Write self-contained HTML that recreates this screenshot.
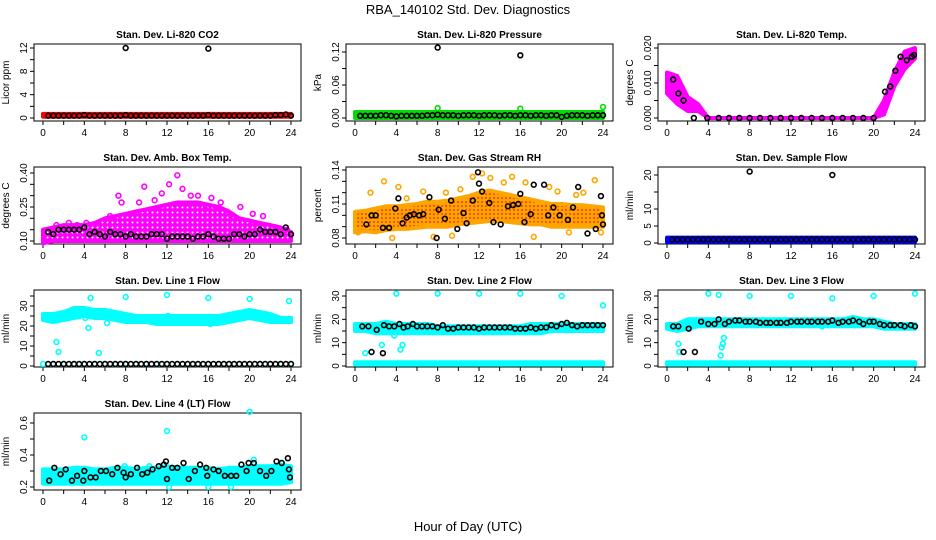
<!DOCTYPE html>
<html><head><meta charset="utf-8"><style>
html,body{margin:0;padding:0;background:#fff;}
svg{display:block;font-family:"Liberation Sans",sans-serif;}
</style></head><body>
<svg id="c" width="936" height="540" viewBox="0 0 936 540" xmlns="http://www.w3.org/2000/svg">
<defs>
<pattern id="pat-mag" patternUnits="userSpaceOnUse" width="5" height="5"><rect width="5" height="5" fill="#ff00ff"/><circle cx="2.5" cy="2.5" r="1" fill="#fff"/></pattern>
<pattern id="pat-org" patternUnits="userSpaceOnUse" width="4" height="4"><rect width="4" height="4" fill="#ffa500"/><circle cx="2" cy="2" r="1" fill="#ff3300"/></pattern>
</defs>
<text x="468" y="14" text-anchor="middle" font-size="13">RBA_140102  Std. Dev. Diagnostics</text>
<text x="468" y="531" text-anchor="middle" font-size="13">Hour of Day (UTC)</text>
</svg>
<script>
// ---- data ----
const bandT = [0,1,2,3,4,5,6,7,8,9,10,11,12,13,14,15,16,17,18,19,20,21,22,23,24];
const hrs = [0.5,1,1.5,2,2.5,3,3.5,4,4.5,5,5.5,6,6.5,7,7.5,8,8.5,9,9.5,10,10.5,11,11.5,12,12.5,13,13.5,14,14.5,15,15.5,16,16.5,17,17.5,18,18.5,19,19.5,20,20.5,21,21.5,22,22.5,23,23.5,24];
// CO2
const co2Lo = Array(25).fill(0.2), co2Hi = Array(25).fill(0.7);
const co2Black = [0.4,0.4,0.4,0.4,0.4,0.4,0.4,0.5,0.4,0.4,0.4,0.4,0.4,0.4,0.4,0.5,0.4,0.4,0.4,0.4,0.4,0.4,0.4,0.4,0.4,0.4,0.4,0.4,0.4,0.4,0.4,0.5,0.4,0.4,0.4,0.4,0.4,0.4,0.4,0.4,0.4,0.4,0.4,0.4,0.5,0.5,0.6,0.4];
const co2OutX = [8,16], co2OutY = [12,11.9];
// Pressure
const prLo = Array(25).fill(0.0), prHi = Array(25).fill(0.011);
const prBlack = [0.004,0.004,0.004,0.004,0.005,0.005,0.004,0.003,0.004,0.004,0.004,0.004,0.004,0.005,0.005,0.006,0.005,0.005,0.005,0.004,0.005,0.005,0.005,0.004,0.005,0.005,0.005,0.004,0.005,0.005,0.004,0.005,0.005,0.004,0.005,0.005,0.004,0.005,0.005,0.002,0.004,0.005,0.005,0.005,0.004,0.005,0.005,0.005];
const prOutBX = [8,16], prOutBY = [0.128,0.114];
const prOutGX = [8,16,24], prOutGY = [0.018,0.017,0.02];
// Temp
const tpLo = [0.007,0.004,0.002,0.002,0,0,0,0,0,0,0,0,0,0,0,0,0,0,0,0,0,0.001,0.009,0.014,0.017];
const tpHi = [0.013,0.012,0.006,0.004,0,0,0,0,0,0,0,0,0,0,0,0,0,0,0,0,0,0.005,0.013,0.019,0.02];
const tpBX = [0.6,1.1,1.6,2.6,3.9,5,6,7,8,9,10,11,12,13,14,15,16,17,18,19,20,21.1,21.6,22.1,22.6,23.2,23.7,23.9];
const tpBY = [0.011,0.007,0.005,0,0,0,0,0,0,0,0,0,0,0,0,0,0,0,0,0,0,0.0075,0.009,0.0135,0.0175,0.0165,0.0175,0.018];
// Amb box
const abLo = [0.09,0.1,0.1,0.1,0.1,0.1,0.1,0.1,0.1,0.1,0.1,0.1,0.1,0.1,0.1,0.1,0.1,0.1,0.1,0.1,0.1,0.1,0.1,0.1,0.1];
const abHi = [0.15,0.16,0.17,0.17,0.17,0.18,0.2,0.21,0.22,0.23,0.24,0.25,0.26,0.27,0.27,0.27,0.26,0.25,0.23,0.2,0.19,0.18,0.17,0.16,0.14];
const abScX = [1.3,2.5,3.3,4.2,6.5,7.3,7.6,9.3,9.8,10.8,11.5,12.2,13,13.5,14.3,15,15.7,16.3,17.2,18.5,19.1,20.3,21.3,22.5,23.6];
const abScY = [0.17,0.18,0.17,0.18,0.21,0.3,0.27,0.27,0.34,0.28,0.31,0.35,0.39,0.33,0.3,0.3,0.24,0.29,0.27,0.2,0.25,0.22,0.21,0.16,0.15];
const abBlack = [0.14,0.13,0.15,0.15,0.15,0.15,0.15,0.16,0.13,0.14,0.13,0.12,0.14,0.13,0.13,0.12,0.13,0.12,0.12,0.12,0.13,0.13,0.13,0.11,0.12,0.12,0.12,0.12,0.11,0.12,0.12,0.13,0.12,0.11,0.11,0.11,0.13,0.13,0.12,0.13,0.13,0.15,0.14,0.14,0.14,0.13,0.16,0.13];
// Gas RH
const rhLo = [0.085,0.086,0.085,0.087,0.088,0.088,0.089,0.09,0.09,0.09,0.092,0.093,0.094,0.095,0.095,0.094,0.093,0.092,0.092,0.09,0.09,0.09,0.09,0.09,0.09];
const rhHi = [0.103,0.104,0.106,0.108,0.108,0.109,0.11,0.112,0.112,0.113,0.115,0.117,0.12,0.122,0.12,0.118,0.116,0.114,0.112,0.11,0.11,0.109,0.109,0.108,0.107];
const rhScX = [0.3,1.5,2.8,4.2,5,6.6,7.6,8.8,10.2,11.4,12.3,13.1,14.4,15.2,16.5,18.8,19.6,20.7,22.1,23.2,23.8,9.4,17.3,3.6,21.4];
const rhScY = [0.085,0.12,0.13,0.125,0.115,0.121,0.081,0.12,0.123,0.134,0.137,0.133,0.129,0.134,0.129,0.125,0.121,0.085,0.12,0.131,0.085,0.082,0.081,0.08,0.118];
const rhBX = [1.1,1.6,2,2.7,3.3,3.9,4.2,4.6,5,5.3,5.7,6.2,6.6,7.2,7.9,8.1,8.7,9.3,9.9,10.5,10.8,11.4,11.9,12,12.3,13,13.4,14.1,14.8,15.3,15.8,16,16.4,17,17.3,18.3,18.7,19.2,19.8,20.6,21.1,21.6,22.5,23.3,23.8,23.9,24];
const rhBY = [0.092,0.1,0.1,0.089,0.089,0.106,0.115,0.093,0.098,0.1,0.101,0.1,0.101,0.116,0.08,0.105,0.097,0.113,0.088,0.102,0.093,0.113,0.138,0.128,0.121,0.111,0.094,0.092,0.108,0.109,0.11,0.119,0.094,0.101,0.127,0.127,0.1,0.107,0.1,0.096,0.107,0.125,0.084,0.088,0.117,0.1,0.092];
// Sample flow
const sfLo = Array(25).fill(0.3), sfHi = Array(25).fill(1.6);
const sfBlack = Array(48).fill(1.0);
const sfOutX = [8,16], sfOutY = [21,20];
// Line 1
const l1Lo = [23,22,23,24,25,24,24,23,22,22,22,21,21,21,21,21,21,21,22,23,24,23,22,22,22];
const l1Hi = [26,26,27,29,29,28,28,27,26,25,25,25,25,25,25,25,25,25,26,27,28,27,26,24,24];
const l1ScX = [0.4,1.3,1.5,4.1,4.4,4.6,5.4,6.2,8,12,12.1,16,16.2,20,23.8];
const l1ScY = [25,12,7,24,19,34,6.5,21.5,34.5,35.5,25,34,21,33.5,32.5];
const l1Base = Array(25).fill(1);
const l1Black = Array(48).fill(1);
// Line 2
const l2Lo = [15,15,14,14,14,14,14,14,14,14,14,14,14,14,14,14,14,14,14,15,15,15,15,15,15];
const l2Hi = [18,18,18,19,18,18,18,18,17,17,17,17,17,17,17,17,17,18,18,18,18,18,18,18,18];
const l2ScX = [1,2.6,4,4.4,4.6,8,12,16,20,24,3.8];
const l2ScY = [5.5,9,31,7,9,31,31,31,30,26,13];
const l2BX = [0.7,1.3,2.1,2.8,3.3,3.8,4.3,4.7,5.1,5.6,6,6.5,7,7.5,8,8.5,9,9.5,10,10.5,11,11.5,12,12.5,13,13.5,14,14.5,15,15.5,16,16.5,17,17.5,18,18.5,19,19.5,20,20.5,21,21.5,22,22.5,23,23.5,24,1.6,2.7];
const l2BY = [17,17,15.5,17.5,17,17,18,16.5,17,18,17,17,17,17,16.5,17.5,16,16,16.5,16.5,16.5,16.5,16,16.5,16.5,16.5,16.5,16.5,16.5,16,16,16,16.5,16,16.5,16.5,17.5,17,18,18.5,17.5,17,17.5,17.5,17.5,17.5,17.5,6,5.5];
// Line 3
const l3Lo = [16,15,16,17,17,17,17,17,17,17,17,17,17,17,17,17,17,17,17,17,17,16,16,16,16];
const l3Hi = [18,18,20,20,20,20,20,20,20,20,20,20,20,20,20,20,20,20,21,20,20,19,18,18,18];
const l3ScX = [1.1,1.2,5,5.2,5.3,5.5,5.4,4,8,12,16,20,24,15];
const l3ScY = [9.5,6,30.5,4.5,8,12,9.5,31,30,30,29,30,31,17];
const l3BX = [0.6,1.1,1.6,2.1,2.7,3.3,4,4.6,5,5.6,6,6.6,7,7.6,8,8.6,9,9.6,10,10.6,11,11.6,12,12.6,13,13.6,14,14.6,15,15.6,16,16.6,17,17.6,18,18.6,19,19.6,20,20.6,21,21.6,22,22.6,23,23.6,24];
const l3BY = [17,17,6,16,6,19,18,18,20,18,19,19.5,19.5,19,19,19,18.5,18.5,18.5,18.5,18.5,18.5,19,19,19,19,19,19,19,19,19.5,18.5,19,19,19.5,19,18,19,19,18,17.5,17.5,17.5,17.5,17,17.5,17];
// Line 4
const l4Lo = [0.22,0.22,0.22,0.22,0.22,0.22,0.22,0.22,0.22,0.22,0.22,0.22,0.22,0.22,0.22,0.22,0.22,0.22,0.22,0.22,0.22,0.22,0.22,0.22,0.23];
const l4Hi = [0.31,0.31,0.31,0.32,0.32,0.31,0.31,0.32,0.32,0.31,0.32,0.32,0.33,0.32,0.32,0.32,0.32,0.31,0.32,0.32,0.33,0.33,0.33,0.34,0.33];
const l4ScX = [0.3,4,12,20,16,10.3,7.9,20.4,23.3,12.2,18.2];
const l4ScY = [0.3,0.51,0.55,0.67,0.2,0.33,0.33,0.37,0.31,0.2,0.2];
const l4BX = [0.6,1.1,1.7,2.2,2.8,3.3,3.9,4,4.6,5.1,5.6,6.1,6.7,7.2,7.8,8,8.5,9.1,9.6,10.1,10.6,11.2,11.7,11.9,12,12.5,13,13.6,14.1,14.7,15.2,15.8,15.9,16.5,17,17.6,18.2,18.7,19.2,19.7,19.9,20.4,21,21.6,22.1,22.6,23.1,23.7,23.8,23.9];
const l4BY = [0.24,0.32,0.28,0.31,0.24,0.27,0.24,0.3,0.26,0.26,0.3,0.3,0.28,0.32,0.29,0.26,0.28,0.32,0.28,0.29,0.31,0.33,0.34,0.36,0.25,0.32,0.32,0.35,0.25,0.3,0.34,0.32,0.27,0.31,0.3,0.27,0.27,0.27,0.34,0.3,0.35,0.35,0.3,0.27,0.3,0.36,0.35,0.38,0.31,0.26];

// ---- layout ----
const NS="http://www.w3.org/2000/svg";
const svg=document.getElementById('c');
const rowBox=[[44,121],[167,244],[290,367],[413,490]];
function mk(tag,attrs,parent){const e=document.createElementNS(NS,tag);for(const k in attrs)e.setAttribute(k,attrs[k]);(parent||svg).appendChild(e);return e;}

function panel(cfg){
  const col=cfg.col,row=cfg.row;
  const L=34+col*312,R=301+col*312,T=rowBox[row][0],B=rowBox[row][1];
  const g=mk('g',{});
  
  
  const xs=t=>L+9+t*(248/24);
  const ys=v=>cfg.p1+(v-cfg.v1)*(cfg.p2-cfg.p1)/(cfg.v2-cfg.v1);
  const box=mk('rect',{x:L,y:T,width:R-L,height:B-T,fill:'none',stroke:'#000','stroke-width':1},g);
  
  
  const tt=mk('text',{x:(L+R)/2,y:T-6,'text-anchor':'middle','font-size':10,'font-weight':'bold'},g);
  tt.textContent=cfg.title;
  
  
  const yl=mk('text',{transform:`translate(${L-25},${(T+B)/2}) rotate(-90)`,'text-anchor':'middle','font-size':10},g);
  yl.textContent=cfg.ylab;
  
  
  for(let t=0;t<=24;t+=2){
    const x=xs(t);
    mk('line',{x1:x,x2:x,y1:B,y2:B+4,stroke:'#000'},g);
    if(t%4===0){const lb=mk('text',{x:x,y:B+15,'text-anchor':'middle','font-size':10},g);lb.textContent=t;
      
      }
  }
  cfg.yticks.forEach(v=>{const y=ys(v);mk('line',{x1:L-4,x2:L,y1:y,y2:y,stroke:'#000'},g);});
  cfg.ylabels.forEach((s,i)=>{const y=ys(cfg.ylabelV[i]);
    const lb=mk('text',{transform:`translate(${L-7},${y}) rotate(-90)`,'text-anchor':'middle','font-size':10},g);lb.textContent=s;
    
    });
  const clip=mk('g',{},g);
  (cfg.bands||[]).forEach(bd=>{
    let d='';
    bandT.forEach((t,i)=>{d+=(i?'L':'M')+xs(t).toFixed(1)+','+ys(bd.hi[i]).toFixed(1);});
    for(let i=bandT.length-1;i>=0;i--)d+='L'+xs(bandT[i]).toFixed(1)+','+ys(bd.lo[i]).toFixed(1);
    const p=mk('path',{d:d+'Z',fill:bd.fill||bd.color,stroke:bd.color,'stroke-width':4,'stroke-linejoin':'round'},clip);
    
    
  });
  (cfg.series||[]).forEach(s=>{
    s.x.forEach((t,i)=>{const c=mk('circle',{cx:xs(t),cy:ys(s.y[i]),r:2.4,fill:'none',stroke:s.color,'stroke-width':1.6},clip);
      
      });
  });
}
function seq(a,b,s){const r=[];for(let v=a;v<=b+1e-9;v+=s)r.push(+v.toFixed(4));return r;}

panel({name:'panel-co2',col:0,row:0,title:'Stan. Dev. Li-820 CO2',ylab:'Licor ppm',v1:0,p1:118,v2:12,p2:48,
  yticks:seq(0,12,2),ylabels:['0','4','8','12'],ylabelV:[0,4,8,12],
  bands:[{lo:co2Lo,hi:co2Hi,color:'#ff0000'}],
  series:[{x:hrs,y:co2Black,color:'#000'},{x:co2OutX,y:co2OutY,color:'#000'}]});
panel({name:'panel-pressure',col:1,row:0,title:'Stan. Dev. Li-820 Pressure',ylab:'kPa',v1:0,p1:118,v2:0.12,p2:52,
  yticks:seq(0,0.12,0.03),ylabels:['0.00','0.06','0.12'],ylabelV:[0,0.06,0.12],
  bands:[{lo:prLo,hi:prHi,color:'#00dd00'}],
  series:[{x:hrs,y:prBlack,color:'#000'},{x:prOutBX,y:prOutBY,color:'#000'},{x:prOutGX,y:prOutGY,color:'#00dd00'}]});
panel({name:'panel-temp',col:2,row:0,title:'Stan. Dev. Li-820 Temp.',ylab:'degrees C',v1:0,p1:118,v2:0.02,p2:48,
  yticks:seq(0,0.02,0.005),ylabels:['0.000','0.010','0.020'],ylabelV:[0,0.01,0.02],
  bands:[{lo:tpLo,hi:tpHi,color:'#ff00ff'}],
  series:[{x:tpBX,y:tpBY,color:'#000'}]});
panel({name:'panel-amb-box-temp',col:0,row:1,title:'Stan. Dev. Amb. Box Temp.',ylab:'degrees C',v1:0.10,p1:241,v2:0.40,p2:173,
  yticks:seq(0.1,0.4,0.05),ylabels:['0.10','0.25','0.40'],ylabelV:[0.1,0.25,0.4],
  bands:[{lo:abLo,hi:abHi,color:'#ff00ff',fill:'url(#pat-mag)'}],
  series:[{x:abScX,y:abScY,color:'#ff00ff'},{x:hrs,y:abBlack,color:'#000'}]});
panel({name:'panel-gas-rh',col:1,row:1,title:'Stan. Dev. Gas Stream RH',ylab:'percent',v1:0.08,p1:238,v2:0.14,p2:170,
  yticks:seq(0.08,0.14,0.01),ylabels:['0.08','0.11','0.14'],ylabelV:[0.08,0.11,0.14],
  bands:[{lo:rhLo,hi:rhHi,color:'#ffa500',fill:'url(#pat-org)'}],
  series:[{x:rhScX,y:rhScY,color:'#ffa500'},{x:rhBX,y:rhBY,color:'#000'}]});
panel({name:'panel-sample-flow',col:2,row:1,title:'Stan. Dev. Sample Flow',ylab:'ml/min',v1:0,p1:243,v2:20,p2:175,
  yticks:[0,5,10,15,20],ylabels:['0','5','10','20'],ylabelV:[0,5,10,20],
  bands:[{lo:sfLo,hi:sfHi,color:'#0000ff'}],
  series:[{x:hrs,y:sfBlack,color:'#000'},{x:sfOutX,y:sfOutY,color:'#000'}]});
panel({name:'panel-line1-flow',col:0,row:2,title:'Stan. Dev. Line 1 Flow',ylab:'ml/min',v1:0,p1:366,v2:30,p2:306,
  yticks:seq(0,35,5),ylabels:['0','10','20','30'],ylabelV:[0,10,20,30],
  bands:[{lo:l1Lo,hi:l1Hi,color:'#00ffff'}],
  series:[{x:l1ScX,y:l1ScY,color:'#00ffff'},{x:bandT,y:l1Base,color:'#00ffff'},{x:hrs,y:l1Black,color:'#000'}]});
panel({name:'panel-line2-flow',col:1,row:2,title:'Stan. Dev. Line 2 Flow',ylab:'ml/min',v1:0,p1:366,v2:30,p2:296,
  yticks:seq(0,30,5),ylabels:['0','10','20','30'],ylabelV:[0,10,20,30],
  bands:[{lo:l2Lo,hi:l2Hi,color:'#00ffff'},{lo:Array(25).fill(0.6),hi:Array(25).fill(1.6),color:'#00ffff'}],
  series:[{x:l2ScX,y:l2ScY,color:'#00ffff'},{x:l2BX,y:l2BY,color:'#000'}]});
panel({name:'panel-line3-flow',col:2,row:2,title:'Stan. Dev. Line 3 Flow',ylab:'ml/min',v1:0,p1:366,v2:30,p2:296,
  yticks:seq(0,30,5),ylabels:['0','10','20','30'],ylabelV:[0,10,20,30],
  bands:[{lo:l3Lo,hi:l3Hi,color:'#00ffff'},{lo:Array(25).fill(0.6),hi:Array(25).fill(1.6),color:'#00ffff'}],
  series:[{x:l3ScX,y:l3ScY,color:'#00ffff'},{x:l3BX,y:l3BY,color:'#000'}]});
panel({name:'panel-line4-flow',col:0,row:3,title:'Stan. Dev. Line 4 (LT) Flow',ylab:'ml/min',v1:0.2,p1:487,v2:0.6,p2:423,
  yticks:seq(0.2,0.6,0.1),ylabels:['0.2','0.4','0.6'],ylabelV:[0.2,0.4,0.6],
  bands:[{lo:l4Lo,hi:l4Hi,color:'#00ffff'}],
  series:[{x:l4ScX,y:l4ScY,color:'#00ffff'},{x:l4BX,y:l4BY,color:'#000'}]});
</script>
</body></html>
